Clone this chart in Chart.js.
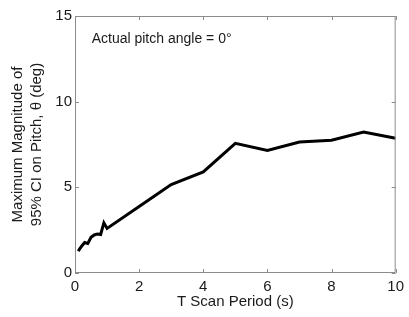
<!DOCTYPE html>
<html>
<head>
<meta charset="utf-8">
<script src="https://cdn.jsdelivr.net/npm/chart.js@4.4.1/dist/chart.umd.min.js"></script>
<style>
  html, body { margin: 0; padding: 0; background: #fff; }
  #wrap { width: 409px; height: 317px; }
</style>
</head>
<body>
<div id="wrap"><canvas id="ciChart" width="409" height="317"></canvas></div>
<script>
// T scan period (s) and max magnitude of 95% CI on pitch (deg)
const scanPeriod = [0.1, 0.2, 0.3, 0.4, 0.5, 0.6, 0.7, 0.8, 0.9, 1.0, 2, 3, 4, 5, 6, 7, 8, 9, 10];
const maxCI = [1.28, 1.55, 1.78, 1.72, 2.08, 2.22, 2.28, 2.25, 2.93, 2.6, 3.88, 5.16, 5.9, 7.57, 7.15, 7.65, 7.75, 8.23, 7.87];

const xTicks = [0, 2, 4, 6, 8, 10];
const yTicks = [0, 5, 10, 15];

const axisGrey = '#8c8c8c';
const textColor = '#1a1a1a';
const fontFamily = '"Liberation Sans", Arial, sans-serif';

// MATLAB-style box with inward ticks on all four sides + annotation
const boxPlugin = {
    id: 'boxPlugin',
    afterDraw(chart) {
        const { ctx, chartArea: a, scales: { x, y } } = chart;
        ctx.save();
        ctx.strokeStyle = axisGrey;
        ctx.lineWidth = 1;
        ctx.beginPath();
        ctx.rect(a.left + 0.5, a.top + 0.5, a.right - a.left - 1, a.bottom - a.top - 1);
        ctx.stroke();
        const len = 4;
        ctx.beginPath();
        xTicks.forEach(v => {
            const px = Math.round(x.getPixelForValue(v)) + 0.5;
            ctx.moveTo(px, a.bottom); ctx.lineTo(px, a.bottom - len);
            ctx.moveTo(px, a.top); ctx.lineTo(px, a.top + len);
        });
        yTicks.forEach(v => {
            const py = Math.round(y.getPixelForValue(v)) + 0.5;
            ctx.moveTo(a.left, py); ctx.lineTo(a.left + len, py);
            ctx.moveTo(a.right, py); ctx.lineTo(a.right - len, py);
        });
        ctx.stroke();

        // annotation
        ctx.fillStyle = textColor;
        ctx.font = '14px ' + fontFamily;
        ctx.textBaseline = 'alphabetic';
        ctx.textAlign = 'left';
        ctx.fillText('Actual pitch angle = 0°', x.getPixelForValue(0.52), y.getPixelForValue(13.4));
        ctx.restore();
    }
};

new Chart(document.getElementById('ciChart'), {
    type: 'line',
    data: {
        datasets: [{
            data: scanPeriod.map((t, i) => ({ x: t, y: maxCI[i] })),
            borderColor: '#000',
            borderWidth: 3,
            pointRadius: 0,
            tension: 0,
            fill: false
        }]
    },
    options: {
        responsive: false,
        animation: false,
        layout: { padding: { top: 16, right: 12, left: 0, bottom: 0 } },
        plugins: { legend: { display: false }, tooltip: { enabled: false } },
        scales: {
            x: {
                type: 'linear',
                min: 0,
                max: 10,
                afterFit: s => { s.height = 44; },
                afterBuildTicks: s => { s.ticks = xTicks.map(v => ({ value: v })); },
                grid: { display: false, drawTicks: false },
                border: { display: false },
                ticks: { color: textColor, padding: 5, maxRotation: 0, font: { size: 15, family: fontFamily } },
                title: {
                    display: true,
                    text: 'T Scan Period (s)',
                    color: textColor,
                    font: { size: 15, family: fontFamily },
                    padding: { top: 0, bottom: 6 }
                }
            },
            y: {
                min: 0,
                max: 15,
                afterFit: s => { s.width = 75; },
                afterBuildTicks: s => { s.ticks = yTicks.map(v => ({ value: v })); },
                grid: { display: false, drawTicks: false },
                border: { display: false },
                ticks: { color: textColor, padding: 3, font: { size: 15, family: fontFamily } },
                title: {
                    display: true,
                    text: ['Maximum Magnitude of', '95% CI on Pitch, θ (deg)'],
                    color: textColor,
                    font: { size: 15, family: fontFamily, lineHeight: 1.3 },
                    padding: { top: 8, bottom: 0 }
                }
            }
        }
    },
    plugins: [boxPlugin]
});
</script>
</body>
</html>
